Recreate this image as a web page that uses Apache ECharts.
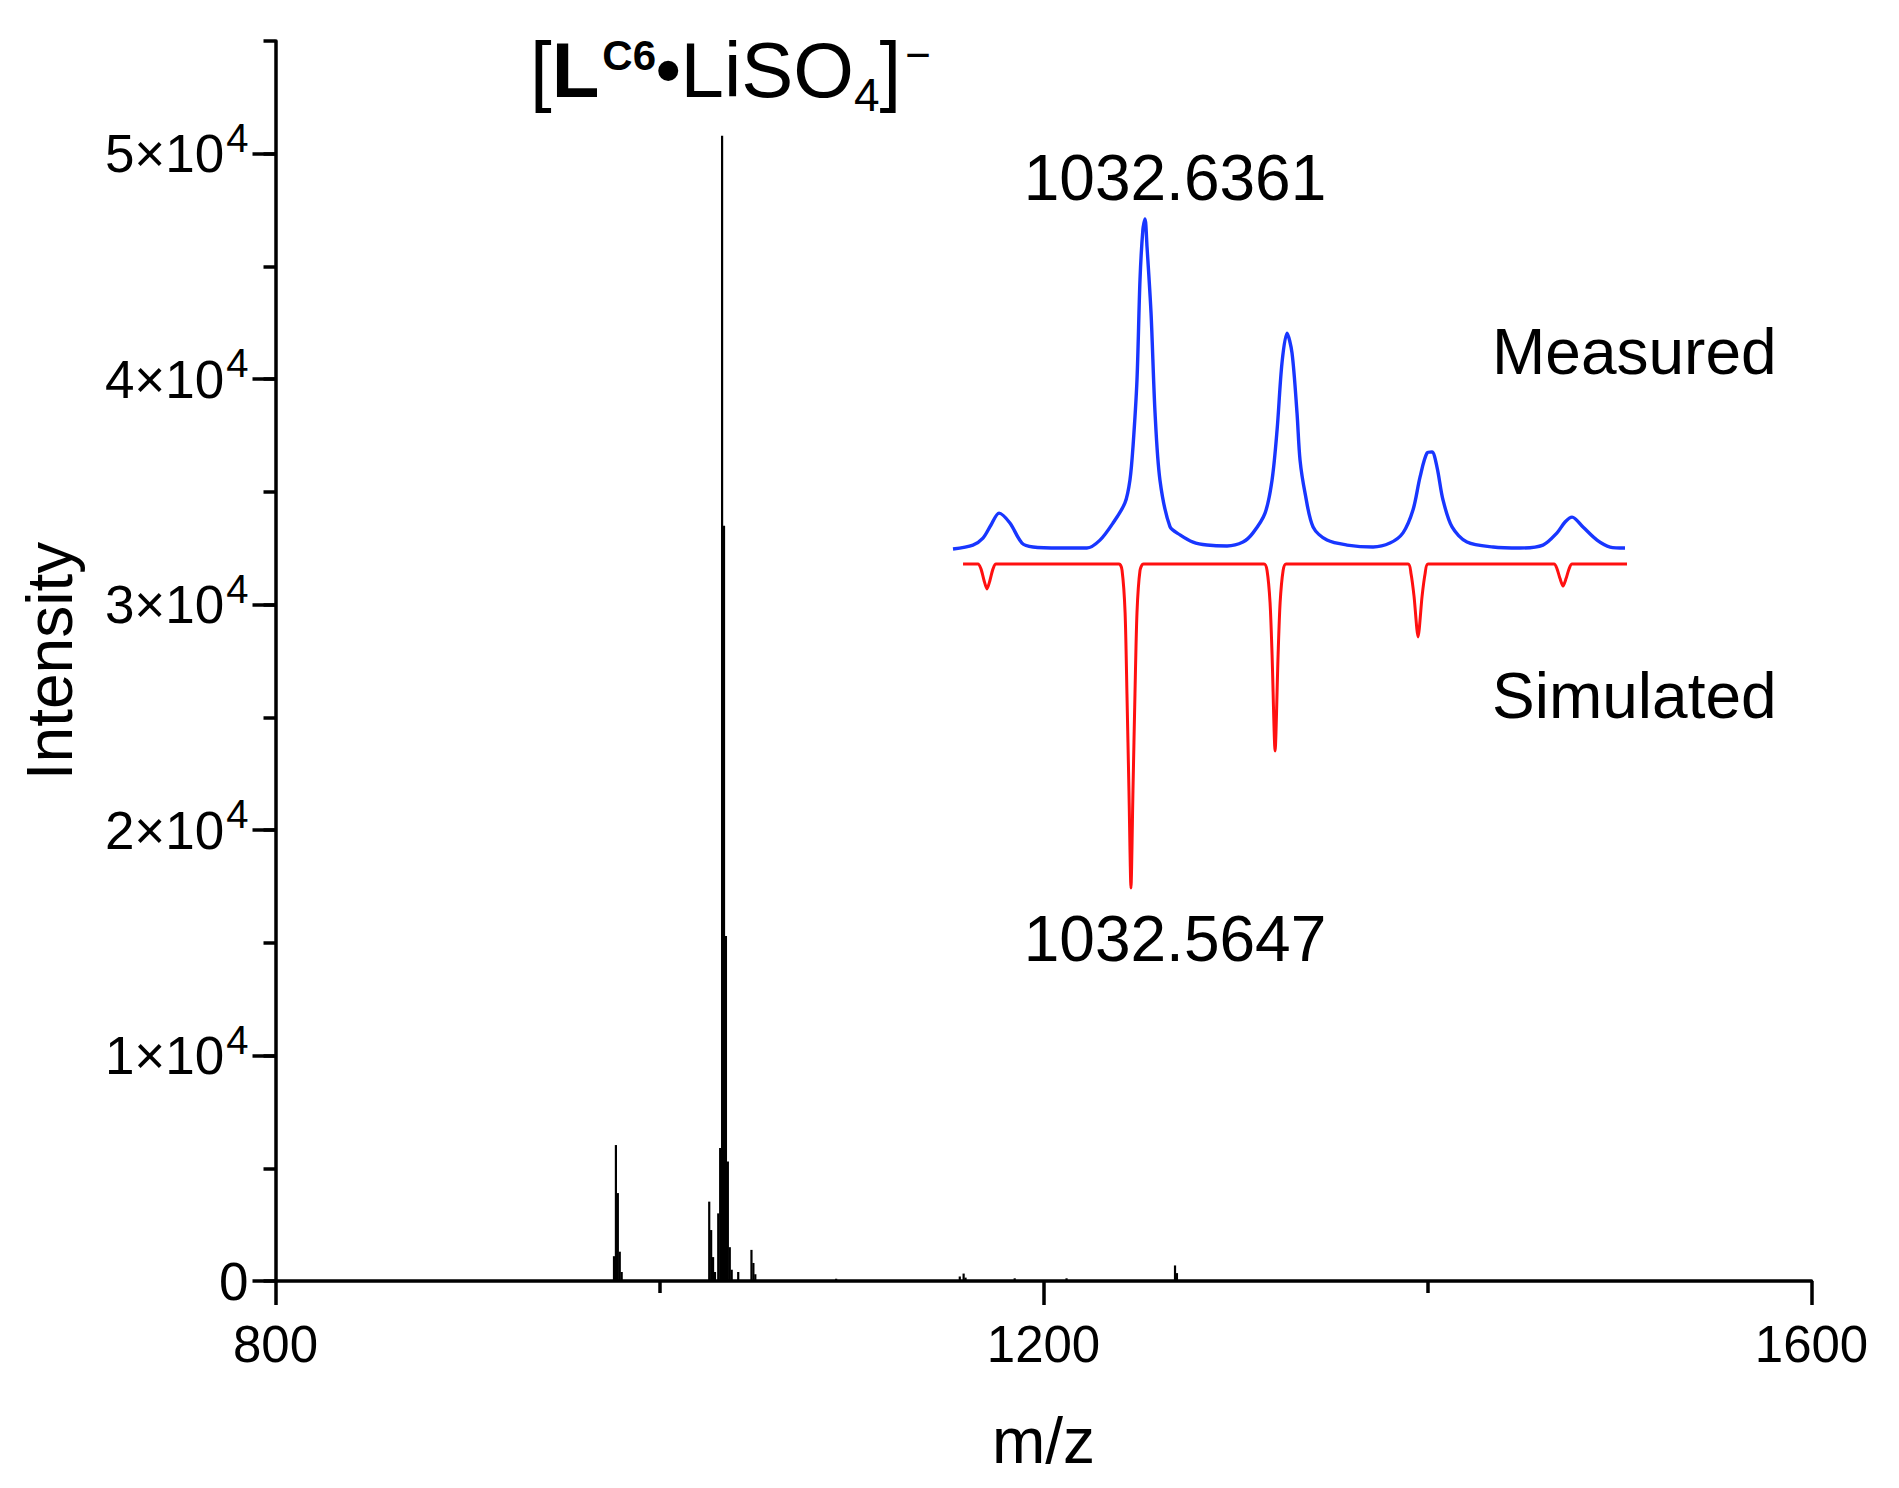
<!DOCTYPE html>
<html><head><meta charset="utf-8">
<script src="https://cdn.jsdelivr.net/npm/echarts@6/dist/echarts.min.js"></script>
<style>html,body{margin:0;padding:0;background:#fff}#c{width:1899px;height:1488px}</style>
</head><body><div id="c"></div>
<script>
// ---- Main spectrum (m/z, intensity) ----
const mainMz = [976.3, 977.3, 978.3, 979.3, 980.3, 1025.9, 1026.9, 1027.9, 1028.9, 1030.6, 1031.6, 1032.6, 1033.6, 1034.6, 1035.6, 1036.6, 1037.6, 1041.0, 1047.9, 1048.9, 1049.9, 1092.0, 1156.4, 1158.4, 1159.4, 1185.0, 1212.0, 1268.5, 1269.5];
const mainIntensity = [1100, 6030, 3900, 1300, 400, 3520, 2260, 1060, 400, 3000, 5900, 50800, 33500, 15300, 5300, 1500, 500, 400, 1380, 800, 300, 100, 200, 330, 150, 120, 120, 690, 350];

// ---- Inset: measured isotope profile (m/z, relative intensity %) ----
const measuredMz = [1031.300, 1031.439, 1031.509, 1031.565, 1031.621, 1031.697, 1031.781, 1031.858, 1032.046, 1032.234, 1032.325, 1032.416, 1032.499, 1032.534, 1032.555, 1032.583, 1032.604, 1032.624, 1032.639, 1032.653, 1032.681, 1032.709, 1032.743, 1032.813, 1032.883, 1032.974, 1033.071, 1033.211, 1033.322, 1033.392, 1033.476, 1033.525, 1033.560, 1033.594, 1033.629, 1033.664, 1033.699, 1033.720, 1033.755, 1033.811, 1033.908, 1034.048, 1034.229, 1034.347, 1034.438, 1034.508, 1034.557, 1034.606, 1034.640, 1034.675, 1034.717, 1034.780, 1034.884, 1035.066, 1035.254, 1035.414, 1035.512, 1035.568, 1035.617, 1035.693, 1035.791, 1035.882, 1035.986];
const measuredRel = [-0.3, 0.9, 3.0, 7.0, 10.6, 7.6, 1.5, 0.3, 0, 0, 2.4, 7.6, 13.7, 20.7, 30.7, 51.1, 81.5, 96.7, 100, 91.5, 71.4, 41.0, 20.7, 6.5, 4.0, 1.8, 0.9, 0.6, 1.8, 4.6, 10.6, 20.7, 35.9, 56.2, 65.3, 59.3, 41.0, 26.7, 16.7, 6.4, 2.4, 0.9, 0.3, 1.5, 4.6, 11.6, 21.6, 28.9, 29.2, 24.6, 14.6, 6.4, 1.8, 0.3, 0, 0.9, 4.6, 7.9, 9.4, 6.4, 2.4, 0.3, 0];

// ---- Inset: simulated isotope pattern (m/z, relative intensity %, drawn downward) ----
const simulatedMz = [1031.370, 1031.474, 1031.495, 1031.516, 1031.537, 1031.558, 1031.579, 1031.600, 1032.458, 1032.479, 1032.500, 1032.513, 1032.527, 1032.541, 1032.555, 1032.569, 1032.583, 1032.604, 1032.628, 1033.469, 1033.490, 1033.511, 1033.525, 1033.546, 1033.567, 1033.581, 1033.602, 1033.623, 1034.473, 1034.494, 1034.515, 1034.543, 1034.571, 1034.592, 1034.613, 1035.491, 1035.512, 1035.533, 1035.554, 1035.575, 1035.596, 1035.617, 1036.000];
const simulatedRel = [0, 0, 1.5, 5, 7.7, 5, 1.5, 0, 0, 2, 15, 40, 70, 100, 70, 40, 15, 2, 0, 0, 2, 12, 28, 57.7, 28, 12, 2, 0, 0, 3, 10, 22.5, 10, 3, 0, 0, 1.5, 4.5, 6.8, 4.5, 1.5, 0, 0];

// ---- Axis ticks / labels ----
const xTickValues = [800, 1200, 1600];
const yTickValues = [0, 10000, 20000, 30000, 40000, 50000];
const xAxisTitle = 'm/z';
const yAxisTitle = 'Intensity';
const measuredPeakLabel = '1032.6361';
const simulatedPeakLabel = '1032.5647';
const measuredName = 'Measured';
const simulatedName = 'Simulated';

const FONT = '"Liberation Sans", Arial, Helvetica, sans-serif';
const zip = (a, b) => a.map((v, i) => [v, b[i]]);
const black = '#000';

const chart = echarts.init(document.getElementById('c'), null, {renderer: 'svg'});
const tickLine = {color: black, width: 3.5};

const option = {
  backgroundColor: '#fff',
  animation: false,
  textStyle: {fontFamily: FONT},
  grid: [
    {left: 275.5, width: 1536, top: 41, height: 1240},
    {left: 953, width: 674, top: 219, height: 335.6},
    {left: 953, width: 674, top: 564, height: 324}
  ],
  title: [{
    text: '[{b|L}{bs|C6}{bu|•}LiSO{sub|4}]{sup|−}',
    left: 530, top: 18, padding: 0,
    textStyle: {
      fontFamily: FONT, fontSize: 78, fontWeight: 'normal', color: black, lineHeight: 104,
      rich: {
        b: {fontFamily: FONT, fontSize: 78, fontWeight: 'bold', color: black, lineHeight: 104},
        bs: {fontFamily: FONT, fontSize: 42, fontWeight: 'bold', color: black, verticalAlign: 'top', padding: [16, 0, 0, 3], lineHeight: 46},
        bu: {fontFamily: FONT, fontSize: 70, fontWeight: 'bold', color: black, lineHeight: 104},
        sub: {fontFamily: FONT, fontSize: 46, color: black, verticalAlign: 'bottom', padding: [0, 0, 4, 0], lineHeight: 46},
        sup: {fontFamily: FONT, fontSize: 44, color: black, verticalAlign: 'top', padding: [14, 0, 0, 4], lineHeight: 44}
      }
    }
  }],
  xAxis: [
    {
      gridIndex: 0, type: 'value', min: 800, max: 1600, interval: 400,
      axisLine: {show: true, lineStyle: tickLine},
      axisTick: {show: true, length: 24, inside: false, lineStyle: tickLine},
      minorTick: {show: true, splitNumber: 2, length: 12, lineStyle: tickLine},
      splitLine: {show: false}, minorSplitLine: {show: false},
      axisLabel: {fontFamily: FONT, fontSize: 51, color: black, margin: 38,
        customValues: xTickValues, formatter: v => String(v)},
      name: xAxisTitle, nameLocation: 'middle', nameGap: 128,
      nameTextStyle: {fontFamily: FONT, fontSize: 64, color: black}
    },
    {gridIndex: 1, type: 'value', min: 1031.3, max: 1036.0, show: false},
    {gridIndex: 2, type: 'value', min: 1031.3, max: 1036.0, show: false}
  ],
  yAxis: [
    {
      gridIndex: 0, type: 'value', position: 'left', min: 0, max: 55000, interval: 10000,
      axisLine: {show: true, lineStyle: tickLine},
      axisTick: {show: true, length: 23, customValues: yTickValues, lineStyle: tickLine},
      splitLine: {show: false},
      axisLabel: {
        fontFamily: FONT, fontSize: 53, color: black, margin: 27, lineHeight: 72,
        customValues: yTickValues,
        formatter: v => v === 0 ? '0' : (v % 10000 !== 0 ? '' : (v / 10000) + '×10{sup|4}'),
        rich: {sup: {fontFamily: FONT, fontSize: 40, color: black, verticalAlign: 'top', padding: [0, 0, 0, 2], lineHeight: 44}}
      },
      name: yAxisTitle, nameLocation: 'middle', nameGap: 194, nameRotate: 90,
      nameTextStyle: {fontFamily: FONT, fontSize: 64, color: black}
    },
    {
      gridIndex: 0, type: 'value', position: 'left', min: 0, max: 55000, interval: 5000,
      axisLine: {show: false},
      axisTick: {show: true, length: 12, lineStyle: tickLine},
      axisLabel: {show: false}, splitLine: {show: false}
    },
    {gridIndex: 1, type: 'value', min: -2, max: 100, show: false},
    {gridIndex: 2, type: 'value', min: 0, max: 100, inverse: true, show: false}
  ],
  series: [
    {
      type: 'bar', xAxisIndex: 0, yAxisIndex: 0, barWidth: 2.2, barGap: '-100%',
      itemStyle: {color: black}, data: zip(mainMz, mainIntensity), silent: true, z: 1
    },
    {
      type: 'line', xAxisIndex: 1, yAxisIndex: 2, data: zip(measuredMz, measuredRel),
      showSymbol: false, clip: false, smooth: 0.3,
      lineStyle: {color: '#1836ff', width: 3.4}, silent: true
    },
    {
      type: 'line', xAxisIndex: 2, yAxisIndex: 3, data: zip(simulatedMz, simulatedRel),
      showSymbol: false, clip: false, smooth: 0.25,
      lineStyle: {color: '#ff1010', width: 3}, silent: true
    }
  ],
  graphic: [
    {type: 'text', x: 1175, y: 178, style: {text: measuredPeakLabel, font: '64px ' + FONT, fill: black, textAlign: 'center', textVerticalAlign: 'middle'}},
    {type: 'text', x: 1492, y: 352, style: {text: measuredName, font: '64px ' + FONT, fill: black, textAlign: 'left', textVerticalAlign: 'middle'}},
    {type: 'text', x: 1492, y: 696, style: {text: simulatedName, font: '64px ' + FONT, fill: black, textAlign: 'left', textVerticalAlign: 'middle'}},
    {type: 'text', x: 1175, y: 939, style: {text: simulatedPeakLabel, font: '64px ' + FONT, fill: black, textAlign: 'center', textVerticalAlign: 'middle'}}
  ]
};
chart.setOption(option);
</script>
</body></html>
